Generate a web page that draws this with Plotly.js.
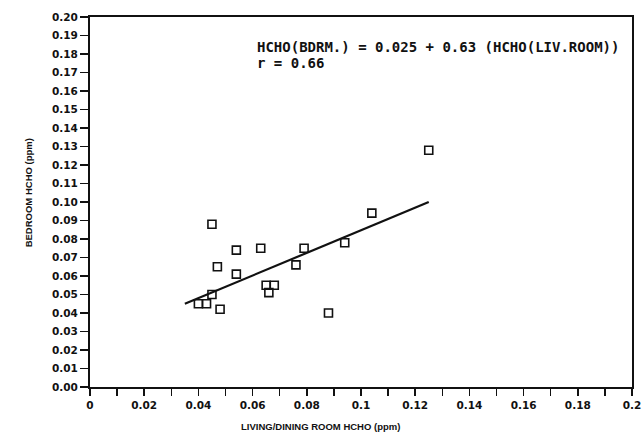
<!DOCTYPE html>
<html>
<head>
<meta charset="utf-8">
<script src="https://cdn.plot.ly/plotly-3.0.1.min.js"></script>
<style>html,body{margin:0;padding:0;background:#fff;}#chart{width:643px;height:439px;}</style>
</head>
<body>
<div id="chart"></div>
<script>
// Measured points: living/dining room HCHO (x) vs bedroom HCHO (y), ppm
var livingHCHO  = [0.045, 0.047, 0.054, 0.054, 0.063, 0.065, 0.066, 0.068, 0.076, 0.079, 0.094, 0.104, 0.088, 0.048, 0.040, 0.043, 0.045, 0.125];
var bedroomHCHO = [0.088, 0.065, 0.074, 0.061, 0.075, 0.055, 0.051, 0.055, 0.066, 0.075, 0.078, 0.094, 0.040, 0.042, 0.045, 0.045, 0.050, 0.128];
// Regression line endpoints as drawn
var fitX = [0.035, 0.125];
var fitY = [0.045, 0.100];
// Tick labels
var xTickVals = [0,0.01,0.02,0.03,0.04,0.05,0.06,0.07,0.08,0.09,0.1,0.11,0.12,0.13,0.14,0.15,0.16,0.17,0.18,0.19,0.2];
var xTickText = ['0','','0.02','','0.04','','0.06','','0.08','','0.1','','0.12','','0.14','','0.16','','0.18','','0.2'];
var yTickVals = [0,0.01,0.02,0.03,0.04,0.05,0.06,0.07,0.08,0.09,0.10,0.11,0.12,0.13,0.14,0.15,0.16,0.17,0.18,0.19,0.20];
var yTickText = ['0.00','0.01','0.02','0.03','0.04','0.05','0.06','0.07','0.08','0.09','0.10','0.11','0.12','0.13','0.14','0.15','0.16','0.17','0.18','0.19','0.20'];
var equationLine1 = 'HCHO(BDRM.) = 0.025 + 0.63 (HCHO(LIV.ROOM))';
var equationLine2 = 'r = 0.66';
var xTitle = 'LIVING/DINING ROOM HCHO (ppm)';
var yTitle = 'BEDROOM HCHO (ppm)';

var traces = [
  {x: fitX, y: fitY, mode: 'lines', line: {color: '#111', width: 2.2}, hoverinfo: 'skip'},
  {x: livingHCHO, y: bedroomHCHO, mode: 'markers', cliponaxis: false,
   marker: {symbol: 'square-open', size: 8, color: '#111', line: {width: 1.6, color: '#111'}}}
];

var tickFont = {family: 'DejaVu Sans', size: 10.5, color: '#111', weight: 'bold'};
var layout = {
  width: 643, height: 439,
  margin: {l: 90, r: 11, t: 17, b: 52},
  paper_bgcolor: '#fff', plot_bgcolor: '#fff',
  showlegend: false,
  xaxis: {range: [0, 0.2], tickvals: xTickVals, ticktext: xTickText, ticks: 'outside', ticklen: 7, tickwidth: 1.5, tickcolor: '#111',
          showline: true, linecolor: '#111', linewidth: 2, mirror: true, showgrid: false, zeroline: false,
          tickfont: tickFont, fixedrange: true},
  yaxis: {range: [0, 0.2], tickvals: yTickVals, ticktext: yTickText, ticks: 'outside', ticklen: 8, tickwidth: 1.5, tickcolor: '#111',
          showline: true, linecolor: '#111', linewidth: 2, mirror: true, showgrid: false, zeroline: false,
          tickfont: tickFont, fixedrange: true},
  annotations: [
    {xref: 'paper', yref: 'paper', x: 0.426, y: -0.108, yanchor: 'middle', xanchor: 'center', showarrow: false,
     text: xTitle, font: {family: 'Liberation Sans', size: 9.5, color: '#111', weight: 'bold'}},
    {xref: 'paper', yref: 'paper', x: -0.114, y: 0.524, xanchor: 'center', yanchor: 'middle', showarrow: false, textangle: -90,
     text: yTitle, font: {family: 'Liberation Sans', size: 9.5, color: '#111', weight: 'bold'}},
    {xref: 'paper', yref: 'paper', x: 0.304, y: 0.918, xanchor: 'left', yanchor: 'middle', showarrow: false,
     text: equationLine1, font: {family: 'DejaVu Sans Mono', size: 14, color: '#111', weight: 'bold'}},
    {xref: 'paper', yref: 'paper', x: 0.304, y: 0.876, xanchor: 'left', yanchor: 'middle', showarrow: false,
     text: equationLine2, font: {family: 'DejaVu Sans Mono', size: 14, color: '#111', weight: 'bold'}}
  ]
};
Plotly.newPlot('chart', traces, layout, {staticPlot: true});
</script>
</body>
</html>
